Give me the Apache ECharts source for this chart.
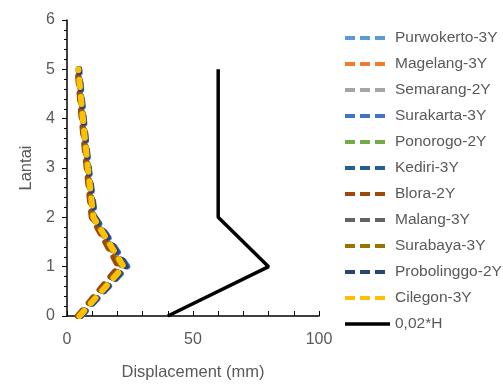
<!DOCTYPE html>
<html>
<head>
<meta charset="utf-8">
<script src="https://cdn.jsdelivr.net/npm/echarts@6/dist/echarts.min.js"></script>
<style>
  html, body { margin: 0; padding: 0; background: #fff; }
  #chart { width: 503px; height: 388px; }
</style>
</head>
<body>
<div id="chart"></div>
<script>
// lantai (floor levels)
const floors = [0, 1, 2, 3, 4, 5]

// displacement per city (mm), floor 0..5
const purwokerto = [5.5, 23.5, 11.0, 8.6, 6.6, 4.8]
const magelang = [4.5, 21.0, 10.0, 8.0, 6.0, 4.3]
const semarang = [5.0, 22.0, 10.5, 8.2, 6.3, 4.5]
const surakarta = [5.6, 24.0, 11.2, 8.7, 6.7, 4.9]
const ponorogo = [5.0, 22.5, 10.8, 8.4, 6.5, 4.7]
const kediri = [5.3, 23.0, 10.8, 8.4, 6.4, 4.6]
const blora = [4.3, 20.5, 9.8, 7.8, 5.8, 4.2]
const malang = [4.8, 22.0, 10.4, 8.2, 6.2, 4.5]
const surabaya = [4.8, 22.0, 10.3, 8.1, 6.2, 4.4]
const probolinggo = [5.3, 23.5, 11.0, 8.5, 6.5, 4.7]
const cilegon = [5.0, 22.5, 10.5, 8.3, 6.3, 4.5]
// batas simpangan 0,02*H
const limit = [40, 80, 60, 60, 60, 60]

const names = ['Purwokerto-3Y', 'Magelang-3Y', 'Semarang-2Y', 'Surakarta-3Y', 'Ponorogo-2Y',
  'Kediri-3Y', 'Blora-2Y', 'Malang-3Y', 'Surabaya-3Y', 'Probolinggo-2Y', 'Cilegon-3Y', '0,02*H']
const values = [purwokerto, magelang, semarang, surakarta, ponorogo, kediri, blora,
  malang, surabaya, probolinggo, cilegon, limit]
const colors = ['#5B9BD5', '#ED7D31', '#A5A5A5', '#4472C4', '#70AD47', '#255E91',
  '#9E480E', '#636363', '#997300', '#264478', '#FFC000', '#000000']

const font = 'Liberation Sans'

const series = names.map(function (n, i) {
  const isLimit = i === names.length - 1
  return {
    name: n,
    type: 'line',
    symbol: 'none',
    color: colors[i],
    data: values[i].map(function (v, k) { return [v, floors[k]] }),
    lineStyle: isLimit
      ? { width: 3.5, color: colors[i] }
      : { width: 6, color: colors[i], type: [7, 10], cap: 'round' },
    z: isLimit ? 1 : 2
  }
})

// legend entries: short dashes like the original key
const legendData = names.map(function (n, i) {
  const isLimit = i === names.length - 1
  return {
    name: n,
    lineStyle: isLimit ? { type: 'solid', width: 3.5 } : { type: [10, 5], width: 4, cap: 'butt' }
  }
})

const chart = echarts.init(document.getElementById('chart'))
chart.setOption({
  animation: false,
  textStyle: { fontFamily: font },
  grid: { left: 67, right: 184, top: 20, bottom: 72 },
  legend: {
    orient: 'vertical',
    left: 338,
    top: 25,
    itemWidth: 45,
    itemHeight: 14,
    itemGap: 10,
    itemStyle: { opacity: 0 },
    textStyle: { fontSize: 15.5, color: '#595959' },
    data: legendData
  },
  xAxis: {
    type: 'value',
    min: 0, max: 100, interval: 50,
    name: 'Displacement (mm)',
    nameLocation: 'middle',
    nameGap: 48,
    nameTextStyle: { fontSize: 16.5, color: '#595959' },
    axisLine: { lineStyle: { color: '#000', width: 1.5 } },
    axisTick: { show: true, inside: true, length: 5, lineStyle: { color: '#000' } },
    minorTick: { show: true, splitNumber: 5, length: 5, lineStyle: { color: '#000' } },
    axisLabel: { fontSize: 16, color: '#595959', margin: 16 },
    splitLine: { show: false }
  },
  yAxis: {
    type: 'value',
    min: 0, max: 6, interval: 1,
    name: 'Lantai',
    nameLocation: 'middle',
    nameGap: 32,
    nameTextStyle: { fontSize: 16.5, color: '#595959' },
    axisLine: { show: true, lineStyle: { color: '#000', width: 1.5 } },
    axisTick: { show: true, length: 5, lineStyle: { color: '#000' } },
    minorTick: { show: true, splitNumber: 5, length: 3, lineStyle: { color: '#000' } },
    axisLabel: { fontSize: 16, color: '#595959', margin: 12 },
    splitLine: { show: false }
  },
  series: series
})
</script>
</body>
</html>
